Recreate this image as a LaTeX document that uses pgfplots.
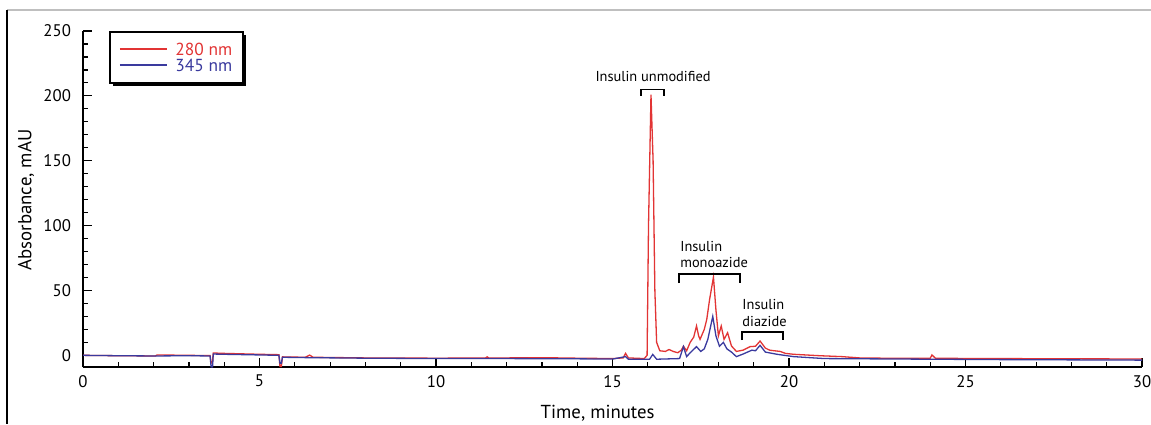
\documentclass[border=0pt]{standalone}
\usepackage{pgfplots}
\pgfplotsset{compat=1.18}
\usepackage{fontspec}
\setmainfont{PT Sans}
\definecolor{myred}{RGB}{226,52,52}
\definecolor{myblue}{RGB}{58,58,158}
\begin{document}
\begin{tikzpicture}
\useasboundingbox (0,0) rectangle (575.5pt,212pt);
\fill[white] (0,0) rectangle (575.5pt,212pt);
\draw[black!25, line width=0.9pt] (3.5pt,207pt) -- (575.5pt,207pt);
\draw[black, line width=0.8pt] (3.5pt,207pt) -- (3.5pt,0pt);
\begin{axis}[
  at={(41.5pt,28.5pt)}, anchor=south west,
  scale only axis, width=529.5pt, height=168pt,
  xmin=0, xmax=30, ymin=-9, ymax=250,
  axis x line=bottom, axis y line=left,
  axis line style={-, line width=0.65pt},
  xtick={0,5,...,30}, ytick={0,50,...,250},
  minor x tick num=4, minor y tick num=4,
  tick align=inside,
  major tick length=4.3pt, minor tick length=2.5pt,
  every tick/.style={black, line width=0.6pt},
  tick label style={font=\fontsize{8.4}{9}\selectfont},
  /pgf/number format/assume math mode=true,
  yticklabel style={xshift=-2.5pt},
  xticklabel style={yshift=-0.5pt},
  xlabel={Time, minutes}, ylabel={Absorbance, mAU},
  label style={font=\fontsize{9.4}{11}\selectfont},
  xlabel style={at={(axis description cs:0.486,-0.138)}, anchor=center},
  ylabel style={at={(axis description cs:-0.0538,0.497)}, anchor=center},
]
\addplot[myred, line width=0.65pt] coordinates {
(0,0) (1,-0.3) (2.05,-0.5) (2.1,0.3) (3,0) (3.6,-0.2) (3.63,-6) (3.67,-5) (3.69,1.8) (4,1.5) (5,0.8) (5.55,0.5) (5.58,-8.5) (5.62,-8.5) (5.65,-1.2) (6.3,-1.5) (6.42,0.2) (6.52,-1.5) (8,-2) (10,-2.2) (11.4,-2.1) (11.45,-1.2) (11.5,-2.1) (12,-2) (13,-1.8) (14,-2.2) (15,-2.5) (15.3,-2) (15.37,1.5) (15.45,-2) (15.9,-2.5) (15.98,0) (16.02,100) (16.09,201) (16.15,150) (16.2,50) (16.25,10) (16.34,3.5) (16.5,3) (16.6,4.5) (16.72,3) (16.85,2) (16.95,4) (17.01,7) (17.1,3.5) (17.2,10) (17.3,14) (17.38,22.6) (17.44,15) (17.48,12.3) (17.6,20) (17.67,27.7) (17.75,43) (17.86,60.3) (17.93,35) (18.0,15) (18.08,22.6) (18.16,12.3) (18.26,17.4) (18.37,7.2) (18.51,3) (18.7,4) (18.9,6.7) (19.05,7) (19.18,11) (19.33,5.6) (19.45,4) (19.56,3.6) (19.75,3) (19.9,1.5) (20.13,0.8) (20.87,-0.3) (21.5,-1) (22,-2) (23,-2.3) (24,-2.3) (24.05,0.3) (24.15,-2.3) (26,-2.5) (28,-2.7) (30,-2.8)
};
\addplot[myblue, line width=0.65pt] coordinates {
(0,0) (1,-0.3) (2,-0.5) (3,-0.3) (3.6,-0.5) (3.63,-9) (3.67,-9) (3.69,1.0) (4,0.8) (5,0.3) (5.55,0) (5.58,-6) (5.62,-6) (5.65,-1.5) (6.4,-1.8) (8,-2.2) (10,-2.5) (12,-2.5) (14,-2.7) (15,-2.9) (15.37,-1) (15.45,-3) (16.05,-3) (16.14,0.7) (16.25,-3) (16.9,-2.5) (17.01,6.7) (17.1,-1) (17.2,2) (17.38,6.7) (17.5,3) (17.6,5) (17.7,12.3) (17.84,30) (17.93,15) (18.03,7) (18.14,10) (18.24,5) (18.37,2.5) (18.51,-1) (18.7,1) (18.95,4) (19.05,3.5) (19.18,7.7) (19.33,2.5) (19.66,0.8) (20.13,-1) (21,-2.5) (24,-3) (26,-3.3) (28,-3.5) (30,-3.7)
};
% legend (box with drop shadow)
\fill[black] (axis description cs:0.0285,0.988) rectangle (axis description cs:0.1541,0.836);
\draw[black, fill=white, line width=0.75pt] (axis description cs:0.0255,0.997) rectangle (axis description cs:0.1511,0.845);
\draw[myred, line width=0.6pt] (axis description cs:0.0349,0.9464) -- (axis description cs:0.0793,0.9464);
\draw[myblue, line width=0.6pt] (axis description cs:0.0349,0.8988) -- (axis description cs:0.0793,0.8988);
\node[font=\fontsize{8.7}{9}\selectfont, text=myred, inner sep=0pt, anchor=west] at (axis description cs:0.0869,0.9464) {280 nm};
\node[font=\fontsize{8.7}{9}\selectfont, text=myblue, inner sep=0pt, anchor=west] at (axis description cs:0.0869,0.8988) {345 nm};
% annotations
\draw[black, line width=0.75pt] (axis cs:15.81,200.2) -- (axis cs:15.81,204.8) -- (axis cs:16.46,204.8) -- (axis cs:16.46,200.2);
\draw[black, line width=0.75pt] (axis cs:16.88,55.6) -- (axis cs:16.88,62.5) -- (axis cs:18.61,62.5) -- (axis cs:18.61,55.6);
\draw[black, line width=0.75pt] (axis cs:18.67,11.8) -- (axis cs:18.67,17.9) -- (axis cs:19.83,17.9) -- (axis cs:19.83,11.8);
\node[font=\fontsize{7.2}{8}\selectfont, inner sep=0pt] at (axis cs:16.15,215) {Insulin unmodified};
\node[font=\fontsize{7.2}{8}\selectfont, inner sep=0pt, anchor=west] at (axis cs:16.91,84) {Insulin};
\node[font=\fontsize{7.2}{8}\selectfont, inner sep=0pt, anchor=west] at (axis cs:16.91,71.8) {monoazide};
\node[font=\fontsize{7.2}{8}\selectfont, inner sep=0pt, anchor=west] at (axis cs:18.67,39.5) {Insulin};
\node[font=\fontsize{7.2}{8}\selectfont, inner sep=0pt, anchor=west] at (axis cs:18.67,26.4) {diazide};
\end{axis}
\end{tikzpicture}
\end{document}
